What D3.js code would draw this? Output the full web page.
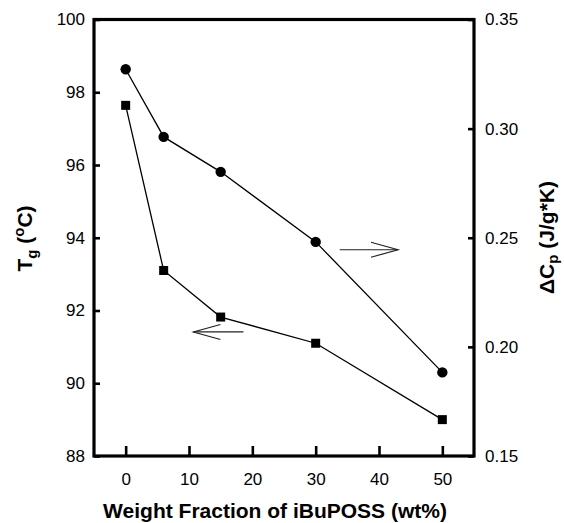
<!DOCTYPE html>
<html>
<head>
<meta charset="utf-8">
<script src="https://cdn.jsdelivr.net/npm/d3@7"></script>
<style>
  body { margin: 0; background: #fff; }
  svg { font-family: "Liberation Sans", Arial, sans-serif; }
</style>
</head>
<body>
<div id="chart"></div>
<script>
// data
var fractions = [0, 6, 15, 30, 50];               // wt% iBuPOSS
var tgValues = [97.64, 93.10, 91.82, 91.10, 89.00]; // Tg (oC), squares, left axis
var cpValues = [0.3272, 0.2962, 0.2802, 0.2481, 0.1883]; // dCp (J/g*K), circles, right axis

var xTicks = [0, 10, 20, 30, 40, 50];
var yLeftTicks = [88, 90, 92, 94, 96, 98, 100];
var yRightTicks = [0.15, 0.20, 0.25, 0.30, 0.35];

// arrows pointing to the axis each series belongs to (in data units)
var arrowTg = { x0: 18.6, x1: 10.7, y: 91.41 };
var arrowCp = { x0: 33.8, x1: 43.0, y: 93.67 };

var W = 564, H = 523;
var margin = { top: 19.5, right: 90, bottom: 67, left: 94 },
    width = W - margin.left - margin.right,
    height = H - margin.top - margin.bottom;

var svg = d3.select("#chart")
    .append("svg")
    .attr("width", W)
    .attr("height", H)
    .append("g")
    .attr("transform", "translate(" + margin.left + "," + margin.top + ")");

var x = d3.scaleLinear().domain([-5, 55]).range([0, width]);
var yL = d3.scaleLinear().domain([88, 100]).range([height, 0]);
var yR = d3.scaleLinear().domain([0.15, 0.35]).range([height, 0]);

// bottom axis
var xAxis = svg.append("g")
    .attr("transform", "translate(0," + height + ")")
    .call(d3.axisBottom(x).tickValues(xTicks).tickSizeInner(-10).tickSizeOuter(0).tickPadding(17)
        .tickFormat(d3.format("d")));
xAxis.selectAll("line").attr("stroke-width", 2.6);

// left axis
var yAxisL = svg.append("g")
    .call(d3.axisLeft(yL).tickValues(yLeftTicks).tickSizeInner(-6).tickSizeOuter(0).tickPadding(9)
        .tickFormat(d3.format("d")));
yAxisL.selectAll("line").attr("stroke-width", 2.6);

// right axis
var yAxisR = svg.append("g")
    .attr("transform", "translate(" + width + ",0)")
    .call(d3.axisRight(yR).tickValues(yRightTicks).tickSizeInner(-6).tickSizeOuter(0).tickPadding(11)
        .tickFormat(d3.format(".2f")));
yAxisR.selectAll("line").attr("stroke-width", 2.6);

svg.selectAll(".domain").remove();
svg.selectAll(".tick text").attr("font-size", 17).attr("fill", "#000")
    .attr("font-family", "Liberation Sans, Arial, sans-serif");

// frame
svg.append("rect")
    .attr("x", 0).attr("y", 0)
    .attr("width", width).attr("height", height)
    .attr("fill", "none")
    .attr("stroke", "#000")
    .attr("stroke-width", 3.2);

// series as point lists
var tgData = fractions.map(function(f, i) { return { x: f, y: tgValues[i] }; });
var cpData = fractions.map(function(f, i) { return { x: f, y: cpValues[i] }; });

svg.append("path")
    .datum(tgData)
    .attr("fill", "none")
    .attr("stroke", "#000")
    .attr("stroke-width", 1.3)
    .attr("d", d3.line().x(function(d) { return x(d.x); }).y(function(d) { return yL(d.y); }));

svg.append("path")
    .datum(cpData)
    .attr("fill", "none")
    .attr("stroke", "#000")
    .attr("stroke-width", 1.3)
    .attr("d", d3.line().x(function(d) { return x(d.x); }).y(function(d) { return yR(d.y); }));

var sq = 9;
svg.selectAll("rect.sq")
    .data(tgData)
    .enter()
    .append("rect")
    .attr("class", "sq")
    .attr("x", function(d) { return x(d.x) - sq / 2; })
    .attr("y", function(d) { return yL(d.y) - sq / 2; })
    .attr("width", sq)
    .attr("height", sq)
    .attr("fill", "#000");

svg.selectAll("circle.dot")
    .data(cpData)
    .enter()
    .append("circle")
    .attr("class", "dot")
    .attr("cx", function(d) { return x(d.x); })
    .attr("cy", function(d) { return yR(d.y); })
    .attr("r", 5.2)
    .attr("fill", "#000");

// open arrows
function drawArrow(a) {
    var x0 = x(a.x0), x1 = x(a.x1), yy = yL(a.y);
    var dir = x1 > x0 ? 1 : -1;
    var g = svg.append("g")
        .attr("fill", "none")
        .attr("stroke", "#222")
        .attr("stroke-width", 1.2);
    g.append("line")
        .attr("x1", x0).attr("x2", x1)
        .attr("y1", yy).attr("y2", yy);
    g.append("path")
        .attr("d", "M" + (x1 - dir * 27) + "," + (yy - 7.5) +
            "L" + x1 + "," + yy +
            "L" + (x1 - dir * 27) + "," + (yy + 7.5));
}
drawArrow(arrowTg);
drawArrow(arrowCp);

// axis titles
svg.append("text")
    .attr("x", width / 2 - 9)
    .attr("y", height + 62)
    .attr("text-anchor", "middle")
    .attr("font-size", 21)
    .attr("font-weight", "bold")
    .text("Weight Fraction of iBuPOSS (wt%)");

var tl = svg.append("text")
    .attr("transform", "translate(" + (32 - margin.left) + "," + (238.5 - margin.top) + ") rotate(-90)")
    .attr("text-anchor", "middle")
    .attr("font-size", 21)
    .attr("font-weight", "bold");
tl.append("tspan").text("T");
tl.append("tspan").attr("font-size", 15).attr("dy", 5).text("g");
tl.append("tspan").attr("dy", -5).text(" (");
tl.append("tspan").attr("font-size", 15).attr("dy", -8).text("o");
tl.append("tspan").attr("dy", 8).text("C)");

var tr = svg.append("text")
    .attr("transform", "translate(" + (554 - margin.left) + "," + (237.5 - margin.top) + ") rotate(-90)")
    .attr("text-anchor", "middle")
    .attr("font-size", 21)
    .attr("font-weight", "bold");
tr.append("tspan").text("\u0394C");
tr.append("tspan").attr("font-size", 15).attr("dy", 4).text("p");
tr.append("tspan").attr("dy", -4).text(" (J/g*K)");
</script>
</body>
</html>
